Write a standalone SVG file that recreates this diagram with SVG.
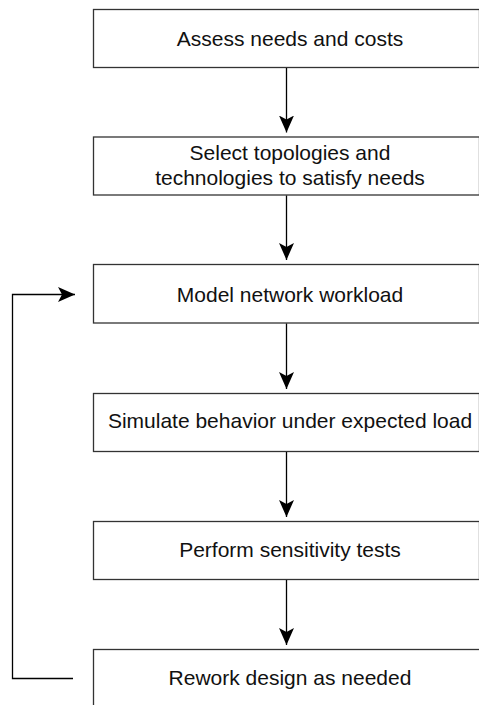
<svg xmlns="http://www.w3.org/2000/svg" width="479" height="705" viewBox="0 0 479 705">
<style>
.box{fill:#fff;stroke:#333;stroke-width:1.3}
.t{font-family:"Liberation Sans",Arial,sans-serif;font-size:21px;fill:#111;text-anchor:middle}
.c{fill:none;stroke:#000;stroke-width:1.3}
</style>
<defs>
<marker id="ah" markerUnits="userSpaceOnUse" markerWidth="20" markerHeight="20" viewBox="-17 -10 20 20" refX="0" refY="0" orient="auto">
<path d="M0,0 L-17,-7.5 L-13,0 L-17,7.5 Z" fill="#000"/>
</marker>
</defs>
<rect width="479" height="705" fill="#fff"/>
<g id="n1"><rect class="box" x="93.5" y="9.5" width="386" height="58"/><text class="t" x="290" y="46">Assess needs and costs</text></g>
<g id="n2"><rect class="box" x="93.5" y="137" width="386" height="58"/><text class="t" x="290" y="160">Select topologies and</text><text class="t" x="290" y="184.5">technologies to satisfy needs</text></g>
<g id="n3"><rect class="box" x="93.5" y="264.5" width="386" height="58.5"/><text class="t" x="290" y="301.5">Model network workload</text></g>
<g id="n4"><rect class="box" x="93.5" y="393.5" width="386" height="58"/><text class="t" x="290" y="428">Simulate behavior under expected load</text></g>
<g id="n5"><rect class="box" x="93.5" y="521.5" width="386" height="58"/><text class="t" x="290" y="556.7">Perform sensitivity tests</text></g>
<g id="n6"><rect class="box" x="93.5" y="649.5" width="390" height="70"/><text class="t" x="290" y="684.5">Rework design as needed</text></g>
<g id="connectors">
<line class="c" x1="286.5" y1="68" x2="286.5" y2="132.5" marker-end="url(#ah)"/>
<line class="c" x1="286.5" y1="195.5" x2="286.5" y2="260" marker-end="url(#ah)"/>
<line class="c" x1="286.5" y1="323.5" x2="286.5" y2="389" marker-end="url(#ah)"/>
<line class="c" x1="286.5" y1="452" x2="286.5" y2="517" marker-end="url(#ah)"/>
<line class="c" x1="286.5" y1="580" x2="286.5" y2="645" marker-end="url(#ah)"/>
<polyline class="c" points="73,678.5 12.5,678.5 12.5,294.5 75,294.5" marker-end="url(#ah)"/>
</g>
</svg>
